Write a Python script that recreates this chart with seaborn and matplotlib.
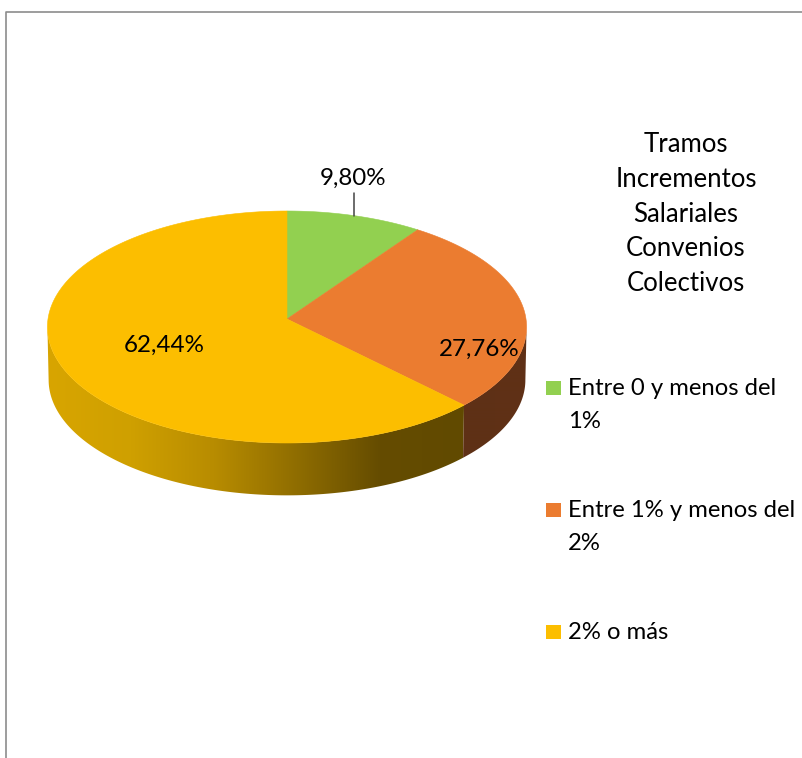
import numpy as np
import matplotlib
matplotlib.use("Agg")
import matplotlib.pyplot as plt
import seaborn as sns
from matplotlib.colors import LinearSegmentedColormap
from matplotlib.patches import Polygon

categories = ["Entre 0 y menos del\n1%", "Entre 1% y menos del\n2%", "2% o más"]
values = [9.80, 27.76, 62.44]
colors = ["#92D050", "#EB7C30", "#FCBE00"]
title_lines = ["Tramos", "Incrementos", "Salariales", "Convenios", "Colectivos"]

sns.set_theme(style="white")
plt.rcParams["font.family"] = ["Lato", "DejaVu Sans"]

fig = plt.figure(figsize=(8.03, 7.58), dpi=100)
ax = fig.add_axes([0, 0, 1, 1])

wedges, _ = ax.pie(values, colors=colors, startangle=90, counterclock=False)


# pie is tilted, near side a bit bigger than far side
def project(theta, r=1.0, drop=0.0):
    t = np.radians(theta)
    x = r * np.cos(t)
    y = r * np.sin(t)
    d = 1 + 0.069 * y
    return 287 + 239 * x / d, 319 - 115.45 * y / d + drop


def surface(w):
    th = np.linspace(w.theta1, w.theta2, 200)
    px, py = project(th)
    cx, cy = project(0, r=0)
    return np.column_stack([np.r_[cx, px], np.r_[cy, py]])


def wall(t1, t2, cmap_colors):
    th = np.linspace(t1, t2, 200)
    tx, ty = project(th)
    bx, by = project(th, r=0.995, drop=53)
    poly = Polygon(np.column_stack([np.r_[tx, bx[::-1]], np.r_[ty, by[::-1]]]),
                   closed=True, transform=ax.transData, facecolor="none", edgecolor="none")
    ax.add_patch(poly)
    cmap = LinearSegmentedColormap.from_list("w", cmap_colors)
    im = ax.imshow(np.linspace(0, 1, 256).reshape(1, -1), cmap=cmap, aspect="auto",
                   extent=(min(tx.min(), bx.min()), max(tx.max(), bx.max()), 520, 300), zorder=1)
    im.set_clip_path(poly)


for w in wedges:
    w.set_visible(False)

# side walls, only the visible front part
orange_w = wedges[1]
wall(-176, orange_w.theta1, ["#D8A500", "#CFA000", "#B88C00", "#8F6D00", "#654C00", "#614A00"])
wall(orange_w.theta1, -4, ["#5E3016", "#603116"])

for w, c in zip(wedges, colors):
    ax.add_patch(Polygon(surface(w), closed=True, facecolor=c, edgecolor=c, lw=0.4, zorder=2))

# labels
pct = [f"{v:.2f}%".replace(".", ",") for v in values]
ax.plot([354, 354], [193, 216], color="#444444", lw=1.1, zorder=3)
ax.text(353, 178, pct[0], ha="center", va="center", fontsize=17.4, color="black", zorder=4)
ax.text(479, 349, pct[1], ha="center", va="center", fontsize=17.4, color="black", zorder=4)
ax.text(164, 345, pct[2], ha="center", va="center", fontsize=17.4, color="black", zorder=4)

ax.text(686, 214, "\n".join(title_lines), ha="center", va="center", fontsize=18.5,
        color="black", linespacing=1.483)

# legend
leg_y = [388, 510, 632]
ax.scatter([553.5] * 3, leg_y, marker="s", s=108, c=colors, linewidths=0, zorder=3)
for y, lab in zip(leg_y, categories):
    ax.text(568, y - 10, lab, ha="left", va="top", fontsize=17.2, color="black", linespacing=1.7)

# chart frame
ax.plot([6.5, 6.5, 803], [758, 11.5, 11.5], color="#8C8C8C", lw=1.2, zorder=3)

ax.set_aspect("auto")
ax.set_xlim(0, 803)
ax.set_ylim(758, 0)
ax.axis("off")

fig.savefig("out.png", dpi=100, facecolor="white")
